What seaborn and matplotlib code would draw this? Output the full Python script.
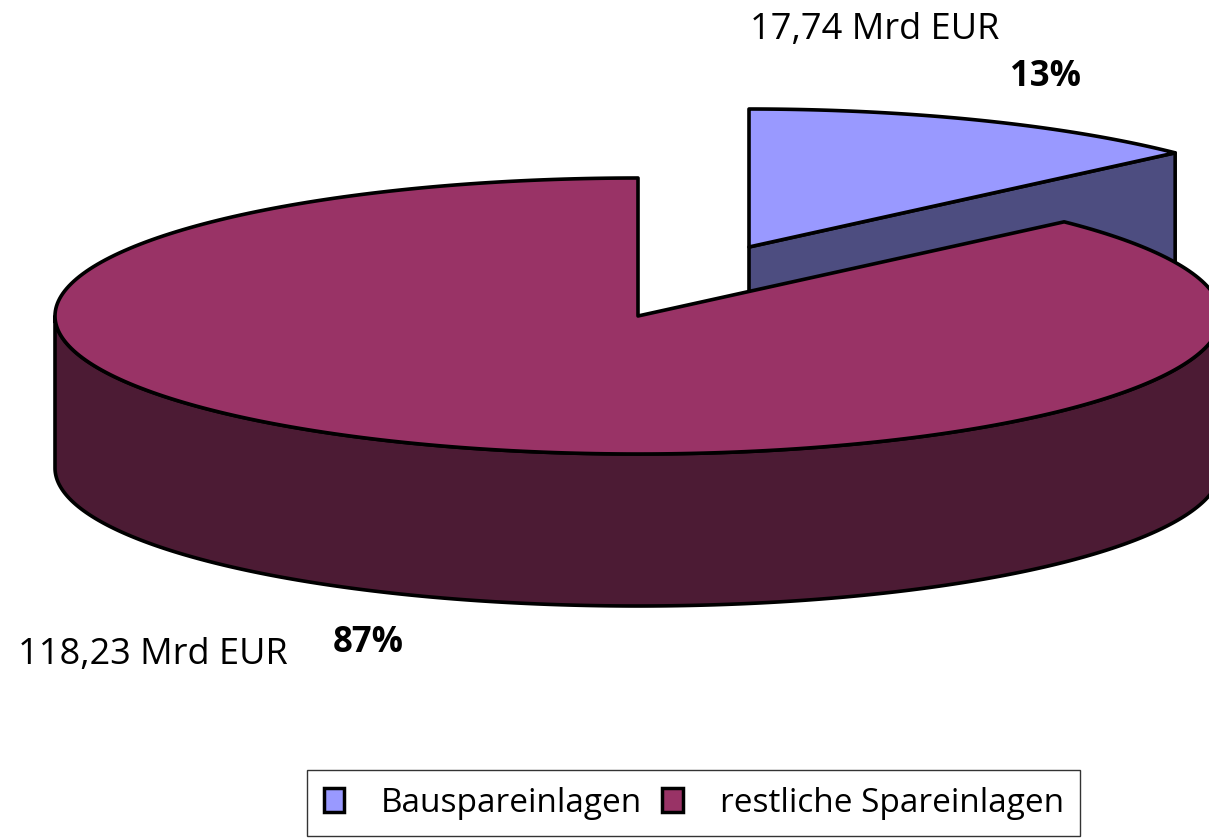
import numpy as np
import matplotlib
matplotlib.use("Agg")
import matplotlib.pyplot as plt
from matplotlib.patches import Polygon, Patch
from matplotlib import font_manager
import seaborn as sns

# data
categories = ["Bauspareinlagen", "restliche Spareinlagen"]
amounts_mrd_eur = [17.74, 118.23]
top_colors = ["#9999FF", "#993366"]
side_colors = ["#4D4D80", "#4C1B34"]

sns.set_style("white")
available = {f.name for f in font_manager.fontManager.ttflist}
label_font = "Open Sans" if "Open Sans" in available else "DejaVu Sans"
legend_font = "Liberation Sans Narrow" if "Liberation Sans Narrow" in available else label_font
plt.rcParams["font.family"] = [label_font, "DejaVu Sans"]
plt.rcParams["text.color"] = "black"

# pie layout (pixel space)
CX, CY = 638, 316
RX, RY = 583, 138
DEPTH = 152
EXPLODE = (111, -69)
START = 90.0


def arc(t0, t1, dx=0.0, dy=0.0, depth=0.0, n=300):
    t = np.radians(np.linspace(t0, t1, n))
    return np.column_stack([CX + dx + RX * np.cos(t), CY + dy + depth - RY * np.sin(t)])


fig = plt.figure(figsize=(12.09, 8.39), dpi=100)
ax = fig.add_axes([0, 0, 1, 1])
ax.set_xlim(0, 1209)
ax.set_ylim(839, 0)
ax.axis("off")

edge = dict(edgecolor="black", linewidth=2.6, joinstyle="round")

total = sum(amounts_mrd_eur)
fracs = [v / total for v in amounts_mrd_eur]

# slice 0 (exploded, at the back)
t0 = START
t1 = START - 360 * fracs[0]
dx, dy = EXPLODE
apex = np.array([CX + dx, CY + dy])
outer = arc(t1, t1, dx, dy, n=1)[0]
side = np.array([apex, outer, outer + [0, DEPTH], apex + [0, DEPTH]])
ax.add_patch(Polygon(side, closed=True, facecolor=side_colors[0], **edge))
top = np.vstack([apex, arc(t0, t1, dx, dy)])
ax.add_patch(Polygon(top, closed=True, facecolor=top_colors[0], **edge))

# slice 1 (rest of the pie)
s0 = t1
s1 = START - 360
front = np.vstack([arc(-180, 0), arc(0, -180, depth=DEPTH)])
ax.add_patch(Polygon(front, closed=True, facecolor=side_colors[1], **edge))
top = np.vstack([[CX, CY], arc(s0, s1)])
ax.add_patch(Polygon(top, closed=True, facecolor=top_colors[1], **edge))

# data labels
fmt = lambda v: f"{v:.2f}".replace(".", ",") + " Mrd EUR"
ax.text(750, 30, fmt(amounts_mrd_eur[0]), fontsize=26, ha="left", va="center")
ax.text(1045, 77, f"{fracs[0] * 100:.0f}%", fontsize=25, fontweight="bold",
        ha="center", va="center")
ax.text(18, 655, fmt(amounts_mrd_eur[1]), fontsize=26, ha="left", va="center")
ax.text(368, 643, f"{fracs[1] * 100:.0f}%", fontsize=25, fontweight="bold",
        ha="center", va="center")

handles = [Patch(facecolor=c, edgecolor="black", linewidth=2.5) for c in top_colors]
leg = fig.legend(handles, categories, loc="upper left",
                 bbox_to_anchor=(307 / 1209, 1 - 770 / 839), ncol=2,
                 frameon=True, fancybox=False, edgecolor="black",
                 handlelength=0.62, handleheight=0.72, handletextpad=1.1,
                 columnspacing=0.6, borderpad=0.5, borderaxespad=0,
                 prop={"family": legend_font, "size": 24})
leg.get_frame().set_linewidth(1.0)

fig.savefig("out.png", dpi=100)
